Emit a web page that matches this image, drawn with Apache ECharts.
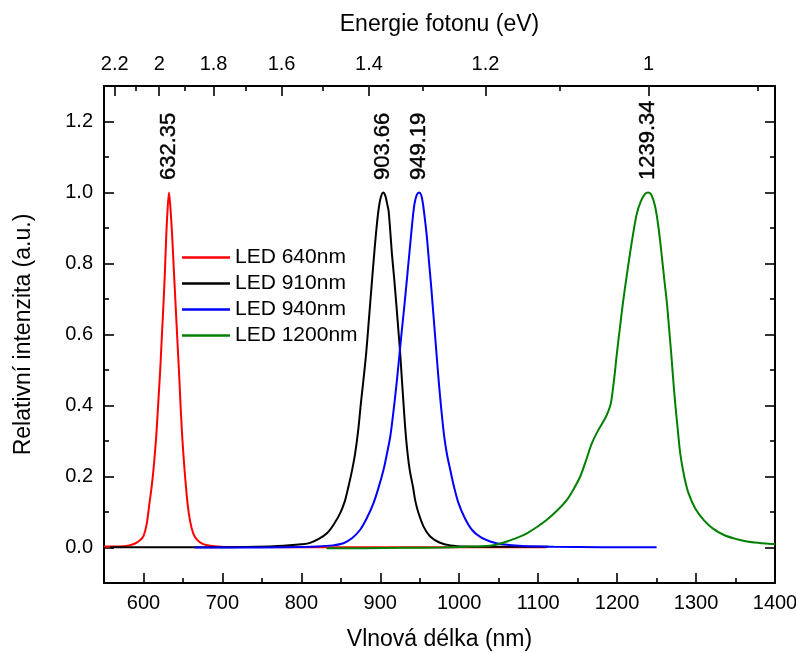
<!DOCTYPE html>
<html>
<head>
<meta charset="utf-8">
<script src="https://cdn.jsdelivr.net/npm/echarts@6/dist/echarts.min.js"></script>
<style>
  html, body { margin: 0; padding: 0; background: #fff; }
  #chart { width: 796px; height: 652px; }
</style>
</head>
<body>
<div id="chart"></div>
<script>
// spectra: [wavelength nm, relative intensity]
const led640 = [[550,0.003],[570,0.003],[582,0.006],[590,0.012],[596,0.021],[600,0.032],[604,0.065],[607.6,0.125],[610.3,0.17],[612.7,0.22],[616.1,0.312],[618.8,0.41],[621.2,0.5],[623.4,0.6],[625.4,0.688],[627.2,0.78],[628.8,0.875],[630.6,0.955],[632.35,1],[634.2,0.955],[636.4,0.875],[638.5,0.78],[640.6,0.688],[642.8,0.59],[644.9,0.5],[647,0.4],[649.1,0.312],[652,0.22],[655.8,0.125],[659,0.075],[663,0.04],[667.7,0.022],[675,0.01],[684.5,0.005],[700,0.002],[800,0.001],[950,0.001],[1110,0.001]];
const led910 = [[558,0.001],[600,0.001],[700,0.001],[760,0.003],[785,0.006],[800,0.009],[811,0.013],[822,0.024],[832.4,0.04],[841,0.065],[849.2,0.097],[855,0.13],[859.7,0.172],[864,0.215],[868.2,0.266],[872,0.33],[875.4,0.406],[878.8,0.475],[882.1,0.547],[884.7,0.618],[887.2,0.688],[889.8,0.76],[892.3,0.828],[895,0.895],[897.7,0.95],[900.5,0.985],[903.66,1],[906.5,0.99],[908.5,0.97],[910.4,0.95],[912.5,0.895],[914.7,0.828],[917.5,0.76],[920.2,0.688],[922.7,0.618],[925.2,0.547],[927.3,0.475],[929.4,0.406],[931.8,0.33],[934.5,0.266],[937.5,0.215],[941.3,0.172],[944.5,0.13],[948.4,0.097],[955,0.058],[963.2,0.031],[975,0.014],[988.6,0.006],[1010,0.003],[1060,0.002],[1113,0.002]];
const led940 = [[665,0],[720,0],[780,0.001],[820,0.003],[840,0.006],[853.4,0.012],[864,0.026],[874.5,0.05],[883,0.083],[891.4,0.125],[898,0.17],[904.1,0.219],[908.5,0.265],[912.6,0.312],[916.5,0.38],[920.2,0.453],[923.4,0.524],[926.5,0.594],[929.7,0.664],[932.8,0.734],[935.8,0.805],[938.8,0.875],[941.2,0.93],[943.4,0.969],[946.2,0.993],[949.19,1],[951.8,0.993],[954,0.969],[956.5,0.925],[959,0.875],[961.7,0.805],[964.5,0.734],[967,0.664],[969.5,0.594],[972,0.524],[974.6,0.453],[977.7,0.38],[981,0.312],[984.5,0.262],[988.6,0.219],[993.5,0.17],[999.1,0.125],[1007,0.083],[1016,0.05],[1027,0.029],[1039.2,0.017],[1055,0.009],[1080,0.004],[1120,0.002],[1180,0.001],[1250,0.001]];
const led1200 = [[832,-0.002],[880,-0.002],[930,-0.001],[980,0],[1010,0.002],[1039,0.005],[1050,0.01],[1060.4,0.017],[1073,0.027],[1085.7,0.04],[1098,0.057],[1111,0.078],[1124,0.104],[1136.4,0.134],[1145,0.165],[1153.3,0.2],[1161,0.248],[1168.1,0.294],[1176,0.33],[1184.9,0.364],[1189,0.385],[1192.1,0.406],[1196,0.47],[1199.7,0.547],[1203.5,0.618],[1207.3,0.688],[1211.5,0.755],[1215.7,0.819],[1220,0.88],[1225,0.941],[1230,0.975],[1235,0.995],[1239.34,1],[1243.5,0.993],[1248.3,0.959],[1252.5,0.9],[1256.7,0.819],[1260,0.75],[1263.1,0.688],[1265.8,0.618],[1268.5,0.547],[1271,0.475],[1273.6,0.406],[1276.8,0.333],[1279.9,0.266],[1285,0.2],[1290.4,0.153],[1299,0.11],[1309.5,0.078],[1321,0.054],[1334.8,0.036],[1349,0.025],[1364.4,0.017],[1380,0.013],[1398,0.01],[1400,0.01]];

const seriesNames = ['LED 640nm', 'LED 910nm', 'LED 940nm', 'LED 1200nm'];
const seriesColors = ['#ff0000', '#000000', '#0000ff', '#008000'];
const peakWavelengths = [632.35, 903.66, 949.19, 1239.34];
const peakValues = [1, 1, 1, 1];

const wavelengthTicks = [600, 700, 800, 900, 1000, 1100, 1200, 1300, 1400];
const wavelengthMinor = [650, 750, 850, 950, 1050, 1150, 1250, 1350];
const energyTicks = [2.2, 2, 1.8, 1.6, 1.4, 1.2, 1];
const energyMinor = [2.1, 1.9, 1.7, 1.5, 1.3, 1.1, 0.9];
const intensityTicks = [0, 0.2, 0.4, 0.6, 0.8, 1.0, 1.2];
const intensityMinor = [0.1, 0.3, 0.5, 0.7, 0.9, 1.1];

const HC = 1239.84; // eV*nm
const toNm = (e) => HC / e;

const font = 'Liberation Sans, Arial, sans-serif';
const lineW = 1.6;
const titleSize = 23;
const tickSize = 20;

function tickAxis(extra) {
  return Object.assign({
    type: 'value',
    splitLine: { show: false },
    axisLine: { show: false, onZero: false },
    axisLabel: { show: false },
  }, extra);
}

const xMin = 550, xMax = 1400, yMin = -0.1, yMax = 1.3;
const frame = { show: true, onZero: false, lineStyle: { color: '#000', width: 2 } };

const chart = echarts.init(document.getElementById('chart'));
chart.setOption({
  animation: false,
  backgroundColor: '#fff',
  textStyle: { fontFamily: font, color: '#000' },
  grid: { left: 104, right: 21, top: 86, bottom: 69, containLabel: false, outerBoundsMode: 'none' },
  legend: {
    data: seriesNames,
    orient: 'vertical',
    left: 182,
    top: 247,
    padding: 0,
    icon: 'rect',
    itemWidth: 48,
    itemHeight: 2.5,
    itemGap: 5,
    selectedMode: false,
    textStyle: { fontSize: 21, lineHeight: 21, color: '#000', fontFamily: font },
  },
  xAxis: [
    tickAxis({
      position: 'bottom', min: xMin, max: xMax,
      name: 'Vlnová délka (nm)', nameLocation: 'middle', nameGap: 45,
      nameTextStyle: { fontSize: titleSize, color: '#000', fontFamily: font },
      axisLine: frame,
      axisTick: { inside: true, length: 10, customValues: wavelengthTicks, lineStyle: { color: '#000', width: lineW } },
      axisLabel: { show: true, margin: 10, fontSize: tickSize, color: '#000', customValues: wavelengthTicks, formatter: (v) => String(v) },
    }),
    tickAxis({
      position: 'bottom', min: xMin, max: xMax,
      axisTick: { inside: true, length: 5, customValues: wavelengthMinor, lineStyle: { color: '#000', width: lineW } },
    }),
    tickAxis({
      position: 'top', min: xMin, max: xMax,
      name: 'Energie fotonu (eV)', nameLocation: 'middle', nameGap: 50,
      nameTextStyle: { fontSize: titleSize, color: '#000', fontFamily: font },
      axisLine: frame,
      axisTick: { inside: true, length: 10, customValues: energyTicks.map(toNm), lineStyle: { color: '#000', width: lineW } },
      axisLabel: {
        show: true, margin: 12, fontSize: tickSize, color: '#000',
        customValues: energyTicks.map(toNm),
        formatter: (v) => String(Number((HC / v).toFixed(1))),
      },
    }),
    tickAxis({
      position: 'top', min: xMin, max: xMax,
      axisTick: { inside: true, length: 5, customValues: energyMinor.map(toNm), lineStyle: { color: '#000', width: lineW } },
    }),
  ],
  yAxis: [
    tickAxis({
      position: 'left', min: yMin, max: yMax,
      name: 'Relativní intenzita (a.u.)', nameLocation: 'middle', nameGap: 69,
      nameTextStyle: { fontSize: titleSize, color: '#000', fontFamily: font },
      axisLine: frame,
      axisTick: { inside: true, length: 10, customValues: intensityTicks, lineStyle: { color: '#000', width: lineW } },
      axisLabel: { show: true, margin: 11, fontSize: tickSize, color: '#000', customValues: intensityTicks, formatter: (v) => v.toFixed(1) },
    }),
    tickAxis({
      position: 'left', min: yMin, max: yMax,
      axisTick: { inside: true, length: 5, customValues: intensityMinor, lineStyle: { color: '#000', width: lineW } },
    }),
    tickAxis({
      position: 'right', min: yMin, max: yMax,
      axisLine: frame,
      axisTick: { inside: true, length: 10, customValues: intensityTicks, lineStyle: { color: '#000', width: lineW } },
    }),
    tickAxis({
      position: 'right', min: yMin, max: yMax,
      axisTick: { inside: true, length: 5, customValues: intensityMinor, lineStyle: { color: '#000', width: lineW } },
    }),
  ],
  series: [
    ...[led640, led910, led940, led1200].map((data, i) => ({
      name: seriesNames[i],
      type: 'line',
      xAxisIndex: 0,
      yAxisIndex: 0,
      data,
      symbol: 'none',
      smooth: 0.3,
      clip: true,
      lineStyle: { color: seriesColors[i], width: 2 },
      itemStyle: { color: seriesColors[i] },
    })),
    {
      name: 'peaks',
      type: 'scatter',
      xAxisIndex: 0,
      yAxisIndex: 0,
      symbolSize: 1,
      itemStyle: { color: 'rgba(0,0,0,0)' },
      emphasis: { disabled: true },
      data: peakWavelengths.map((x, i) => [x, peakValues[i]]),
      label: {
        show: true,
        position: 'top',
        distance: 12,
        rotate: 90,
        align: 'left',
        verticalAlign: 'middle',
        fontSize: 22,
        color: '#000',
        opacity: 1,
        textBorderColor: '#000',
        textBorderWidth: 0.4,
        fontFamily: font,
        formatter: (p) => p.value[0].toFixed(2),
      },
    },
  ],
});
</script>
</body>
</html>
